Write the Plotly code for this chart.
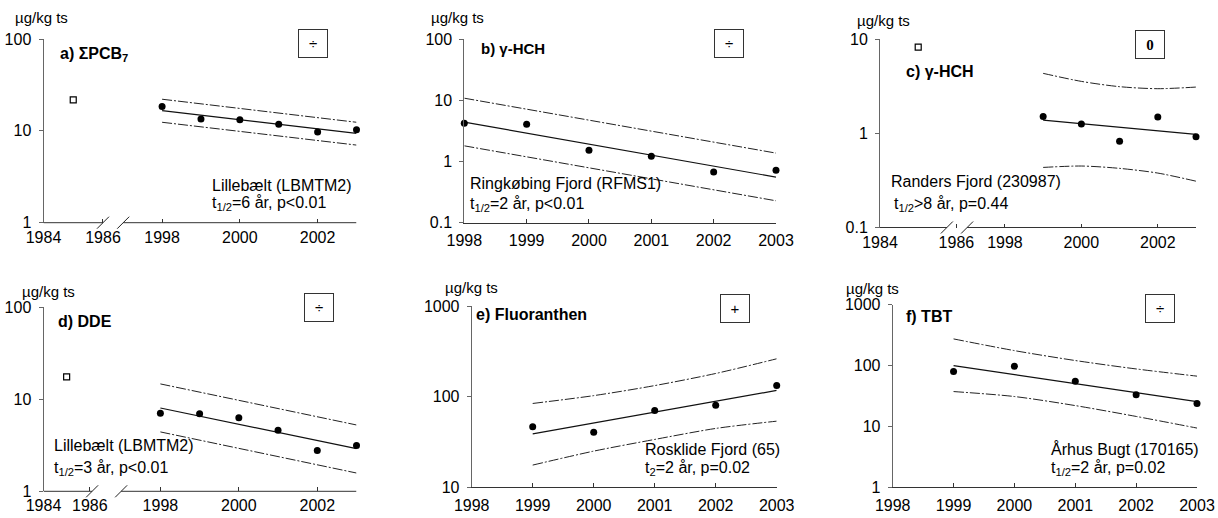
import plotly.graph_objects as go

W, H = 1218, 518

# ---------------- data ----------------
# a) Sum of PCB7, Lillebælt (LBMTM2)
pcb_years = [1998, 1999, 2000, 2001, 2002, 2003]
pcb_values = [18.4, 13.5, 13.2, 11.8, 9.7, 10.3]
pcb_old_years = [1985]
pcb_old_values = [21.7]
pcb_trend_years = [1998, 2003]
pcb_trend = [16.6, 9.4]
pcb_ci_years = [1998, 2003]
pcb_upper = [22.1, 12.4]
pcb_lower = [12.4, 7.0]

# b) gamma-HCH, Ringkøbing Fjord (RFMS1)
hchr_years = [1998, 1999, 2000, 2001, 2002, 2003]
hchr_values = [4.2, 4.07, 1.53, 1.22, 0.67, 0.72]
hchr_trend_years = [1998, 2003]
hchr_trend = [4.39, 0.555]
hchr_ci_years = [1998, 2003]
hchr_upper = [10.8, 1.37]
hchr_lower = [1.80, 0.228]

# c) gamma-HCH, Randers Fjord (230987)
hchd_years = [1999, 2000, 2001, 2002, 2003]
hchd_values = [1.51, 1.25, 0.82, 1.49, 0.92]
hchd_old_years = [1985]
hchd_old_values = [8.2]
hchd_trend_years = [1999, 2003]
hchd_trend = [1.38, 0.975]
hchd_ci_years = [1999, 2000, 2001, 2002, 2003]
hchd_upper = [4.32, 3.55, 3.12, 2.97, 3.09]
hchd_lower = [0.434, 0.449, 0.424, 0.378, 0.31]

# d) DDE, Lillebælt (LBMTM2)
dde_years = [1998, 1999, 2000, 2001, 2002, 2003]
dde_values = [7.04, 6.98, 6.32, 4.60, 2.77, 3.14]
dde_old_years = [1985]
dde_old_values = [17.5]
dde_trend_years = [1998, 2003]
dde_trend = [8.05, 2.91]
dde_ci_years = [1998, 2003]
dde_upper = [14.7, 5.26]
dde_lower = [4.42, 1.58]

# e) Fluoranthen, Rosklide Fjord (65)
flu_years = [1999, 2000, 2001, 2002, 2003]
flu_values = [46.7, 40.7, 70.6, 80.9, 133.0]
flu_trend_years = [1999, 2003]
flu_trend = [39.0, 117.5]
flu_ci_years = [1999, 2000, 2001, 2002, 2003]
flu_upper = [84.4, 103.0, 133.0, 181.0, 263.0]
flu_lower = [17.6, 25.1, 33.8, 44.7, 53.8]

# f) TBT, Århus Bugt (170165)
tbt_years = [1999, 2000, 2001, 2002, 2003]
tbt_values = [79.7, 97.5, 55.3, 33.0, 23.8]
tbt_trend_years = [1999, 2003]
tbt_trend = [100.0, 25.6]
tbt_ci_years = [1999, 2000, 2001, 2002, 2003]
tbt_upper = [274.0, 176.0, 121.0, 88.0, 67.0]
tbt_lower = [37.4, 31.0, 22.0, 14.6, 9.4]

# tick labels
ticks_broken = [1984, 1986, 1998, 2000, 2002]
ticks_full = [1998, 1999, 2000, 2001, 2002, 2003]

FONT = "Liberation Sans, Arial, sans-serif"
XAXIS = "#333333"
YAXIS = "#666666"

panels = [
    dict(xd=(43.5, 356.5), yd=(39.0, 222.7), yr=(0, 2),
         ytv=[1, 10, 100], ytt=["1", "10", "100"],
         brk=dict(pre=0.765, post=3.05, slashes=(1.53, 2.05)), xt=ticks_broken,
         years=pcb_years, vals=pcb_values, old=(pcb_old_years, pcb_old_values),
         trend=(pcb_trend_years, pcb_trend), ci=(pcb_ci_years, pcb_upper, pcb_lower)),
    dict(xd=(464.3, 776.0), yd=(39.0, 222.7), yr=(-1, 2),
         ytv=[0.1, 1, 10, 100], ytt=["0.1", "1", "10", "100"],
         brk=None, xt=ticks_full,
         years=hchr_years, vals=hchr_values, old=None,
         trend=(hchr_trend_years, hchr_trend), ci=(hchr_ci_years, hchr_upper, hchr_lower)),
    dict(xd=(880.0, 1196.0), yd=(39.0, 227.5), yr=(-1, 1),
         ytv=[0.1, 1, 10], ytt=["0.1", "1", "10"],
         brk=dict(pre=1.0, post=3.27, slashes=(1.75, 2.28)), xt=ticks_broken,
         years=hchd_years, vals=hchd_values, old=(hchd_old_years, hchd_old_values),
         trend=(hchd_trend_years, hchd_trend), ci=(hchd_ci_years, hchd_upper, hchd_lower)),
    dict(xd=(43.5, 356.5), yd=(307.3, 491.3), yr=(0, 2),
         ytv=[1, 10, 100], ytt=["1", "10", "100"],
         brk=dict(pre=0.59, post=2.98, slashes=(1.24, 1.98)), xt=ticks_broken,
         years=dde_years, vals=dde_values, old=(dde_old_years, dde_old_values),
         trend=(dde_trend_years, dde_trend), ci=(dde_ci_years, dde_upper, dde_lower)),
    dict(xd=(471.7, 776.7), yd=(306.3, 487.3), yr=(1, 3),
         ytv=[10, 100, 1000], ytt=["10", "100", "1000"],
         brk=None, xt=ticks_full,
         years=flu_years, vals=flu_values, old=None,
         trend=(flu_trend_years, flu_trend), ci=(flu_ci_years, flu_upper, flu_lower)),
    dict(xd=(892.7, 1197.0), yd=(304.7, 487.3), yr=(0, 3),
         ytv=[1, 10, 100, 1000], ytt=["1", "10", "100", "1000"],
         brk=None, xt=ticks_full,
         years=tbt_years, vals=tbt_values, old=None,
         trend=(tbt_trend_years, tbt_trend), ci=(tbt_ci_years, tbt_upper, tbt_lower)),
]


def xmap(year, brk):
    """Position of a year on an axis that may be broken between 1986 and 1998."""
    if brk is None:
        return year
    if year >= 1998:
        return brk["post"] + (year - 1998)
    return (year - 1984) * brk["pre"]


def px_x(px):
    return px / W


def px_y(py):
    return 1 - py / H


fig = go.Figure()
shapes = []
layout = {}

for i, p in enumerate(panels, start=1):
    xa = "x" if i == 1 else f"x{i}"
    ya = "y" if i == 1 else f"y{i}"
    brk = p["brk"]
    m = lambda ys: [xmap(v, brk) for v in ys]

    # confidence band limits
    cy, up, lo = p["ci"]
    for band in (up, lo):
        fig.add_trace(go.Scatter(
            x=m(cy), y=band, xaxis=xa, yaxis=ya, mode="lines",
            line=dict(color="#222222", width=1, dash="10px,2px,2px,2px",
                      shape="spline", smoothing=0.8),
            hoverinfo="skip", showlegend=False, cliponaxis=False))
    # fitted trend
    ty, tv = p["trend"]
    fig.add_trace(go.Scatter(
        x=m(ty), y=tv, xaxis=xa, yaxis=ya, mode="lines",
        line=dict(color="#111111", width=1.2),
        hoverinfo="skip", showlegend=False, cliponaxis=False))
    # measurements
    fig.add_trace(go.Scatter(
        x=m(p["years"]), y=p["vals"], xaxis=xa, yaxis=ya, mode="markers",
        marker=dict(symbol="circle", size=7, color="black"),
        showlegend=False, cliponaxis=False))
    if p["old"] is not None:
        oy, ov = p["old"]
        fig.add_trace(go.Scatter(
            x=m(oy), y=ov, xaxis=xa, yaxis=ya, mode="markers",
            marker=dict(symbol="square-open", size=6, color="black",
                        line=dict(width=1.2, color="black")),
            showlegend=False, cliponaxis=False))

    if brk is None:
        xrange = [1998, 2003]
    else:
        xrange = [0, brk["post"] + 5]

    layout["xaxis" if i == 1 else f"xaxis{i}"] = dict(
        domain=[px_x(p["xd"][0]), px_x(p["xd"][1])], anchor=ya,
        range=xrange, showgrid=False, zeroline=False, automargin=False,
        showline=brk is None, linecolor=XAXIS, linewidth=1,
        ticks="inside", ticklen=4, tickcolor=XAXIS,
        tickvals=m(p["xt"]), ticktext=[str(t) for t in p["xt"]],
        tickfont=dict(family=FONT, size=16, color="black"),
        ticklabelstandoff=3, fixedrange=True)
    layout["yaxis" if i == 1 else f"yaxis{i}"] = dict(
        domain=[px_y(p["yd"][1]), px_y(p["yd"][0])], anchor=xa,
        type="log", range=list(p["yr"]), showgrid=False, zeroline=False,
        automargin=False,
        showline=True, linecolor=YAXIS, linewidth=1,
        ticks="outside", ticklen=4, tickcolor=YAXIS,
        tickvals=p["ytv"], ticktext=p["ytt"],
        tickfont=dict(family=FONT, size=16, color="black"),
        ticklabelstandoff=4, fixedrange=True)

    if brk is not None:
        y_axis_paper = px_y(p["yd"][1])
        s1, s2 = brk["slashes"]
        # broken x-axis line in two pieces
        for a0, a1 in ((xrange[0], s1), (s2, xrange[1])):
            shapes.append(dict(type="line", xref=xa, yref="paper",
                               x0=a0, x1=a1, y0=y_axis_paper, y1=y_axis_paper,
                               line=dict(color=XAXIS, width=1)))
        # break marks
        for s in (s1, s2):
            shapes.append(dict(type="line", xref=xa, yref="paper",
                               xsizemode="pixel", ysizemode="pixel",
                               xanchor=s, yanchor=y_axis_paper,
                               x0=-6, x1=6, y0=-6, y1=6,
                               line=dict(color="#222222", width=1)))

annotations = []


def text(px, py, s, size=16, bold=False, family=FONT):
    annotations.append(dict(
        x=px_x(px), y=px_y(py), xref="paper", yref="paper",
        xanchor="left", yanchor="middle", showarrow=False,
        text=f"<b>{s}</b>" if bold else s,
        font=dict(family=family, size=size, color="black")))


def trend_box(cx, cy, s, family=FONT, bold=False):
    annotations.append(dict(
        x=px_x(cx), y=px_y(cy), xref="paper", yref="paper",
        xanchor="center", yanchor="middle", showarrow=False,
        text=f"<b>{s}</b>" if bold else s, width=28, height=27,
        borderpad=0, borderwidth=1, bordercolor="#333333", align="center",
        valign="middle", font=dict(family=family, size=15, color="black")))


# unit labels
for ux, uy in ((13, 17), (429, 17), (855, 20), (20, 291), (443, 287), (844, 288)):
    text(ux, uy, "µg/kg ts", size=15)

# panel titles
text(58, 54, "a) ΣPCB<sub>7</sub>", bold=True)
text(479, 48, "b) γ-HCH", bold=True, size=15)
text(904, 72, "c) γ-HCH", bold=True)
text(56, 321, "d) DDE", bold=True)
text(474, 314, "e) Fluoranthen", bold=True)
text(904, 316, "f) TBT", bold=True)

# trend indicator boxes
trend_box(312.5, 43.5, "÷")
trend_box(729, 43.5, "÷")
trend_box(1149.5, 44, "0", family="Liberation Serif, Times New Roman, serif", bold=True)
trend_box(318.5, 307.5, "÷")
trend_box(735, 308, "+")
trend_box(1160, 308, "÷")

# station and trend statistics
text(210, 185, "Lillebælt (LBMTM2)")
text(210, 203, "t<sub>1/2</sub>=6 år, p&lt;0.01")
text(468, 183, "Ringkøbing Fjord (RFMS1)")
text(468, 204, "t<sub>1/2</sub>=2 år, p&lt;0.01")
text(889, 182, "Randers Fjord (230987)")
text(892, 204, "t<sub>1/2</sub>&gt;8 år, p=0.44")
text(52, 446, "Lillebælt (LBMTM2)")
text(52, 468, "t<sub>1/2</sub>=3 år, p&lt;0.01")
text(643, 449, "Rosklide Fjord (65)")
text(643, 468, "t<sub>2</sub>=2 år, p=0.02")
text(1049, 449, "Århus Bugt (170165)")
text(1049, 468, "t<sub>1/2</sub>=2 år, p=0.02")

fig.update_layout(
    width=W, height=H, autosize=False,
    margin=dict(l=0, r=0, t=0, b=0, pad=0, autoexpand=False),
    paper_bgcolor="white", plot_bgcolor="white",
    showlegend=False, shapes=shapes, annotations=annotations,
    font=dict(family=FONT, size=16, color="black"),
    **layout)

fig.write_html("out.html", config=dict(displayModeBar=False))
